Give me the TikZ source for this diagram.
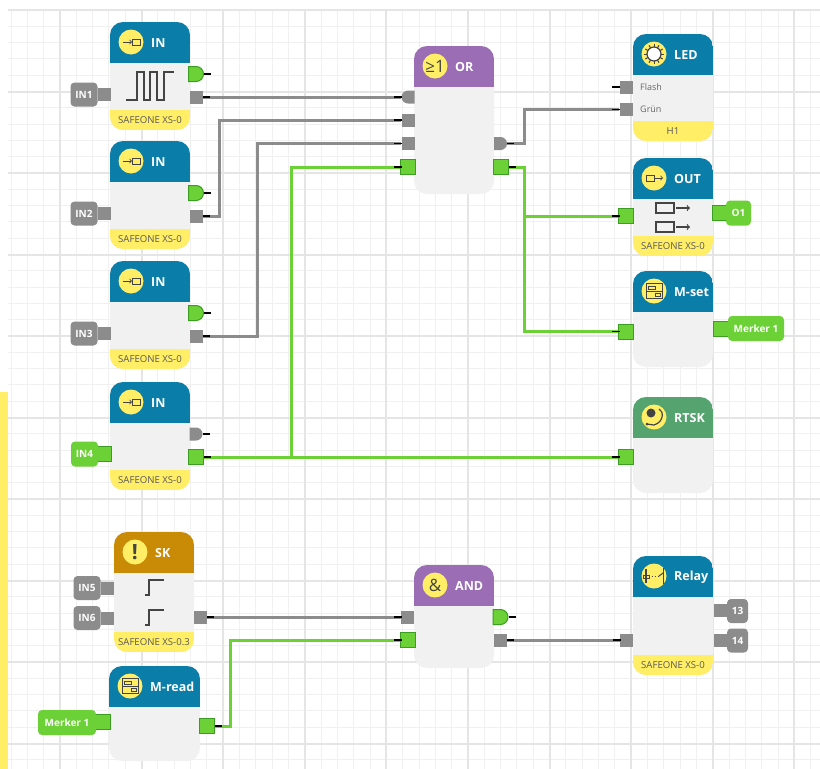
\documentclass[tikz,border=0pt]{standalone}
\usepackage{fontspec}
\setmainfont{Open Sans}
\usepackage{xcolor}
\usepackage{tikz}
\usetikzlibrary{shapes.misc}
\definecolor{cteal}{HTML}{0A7DA8}
\definecolor{cpurple}{HTML}{9A6DB5}
\definecolor{camber}{HTML}{C98A05}
\definecolor{cmoss}{HTML}{55A36F}
\definecolor{cyell}{HTML}{FFEE66}
\definecolor{cbody}{HTML}{F1F1F1}
\definecolor{cgray}{HTML}{8C8C8C}
\definecolor{cgreen}{HTML}{6CD137}
\definecolor{cedge}{HTML}{3A9E20}
\definecolor{cink}{HTML}{444444}

% name, x, width, top, bottom, colour, title, footer, icon text
\newcommand{\block}[9]{
	\node[blockbody,minimum width=#3,minimum height={#5-#4},
		path picture={
			\fill[#6,sharp corners] (path picture bounding box.north west) rectangle ++(#3,41);
			\if\relax\detokenize{#8}\relax\else
			\fill[cyell,sharp corners] (path picture bounding box.south west) rectangle ++(#3,-20);
			\fi
		}] (#1) at ({#2+#3/2},{(#4+#5)/2}) {};
	\node[iconbadge] (#1icon) at (#2+21,#4+20) {#9};
	\node[blocktitle] (#1title) at (#2+41,#4+21) {#7};
	\if\relax\detokenize{#8}\relax\else
	\node[blockfoot] (#1foot) at ({#2+#3/2},#5-10) {#8};
	\fi
}

\begin{document}
\begin{tikzpicture}[x=1pt,y=-1pt,
	gridminor/.style={draw=black!6,line width=1},
	gridmajor/.style={draw=black!10,line width=2},
	blockbody/.style={fill=cbody,rounded corners=13,inner sep=0},
	iconbadge/.style={circle,fill=cyell,minimum size=25,inner sep=0,text=cink,font=\fontsize{17}{17}\selectfont},
	blocktitle/.style={anchor=west,inner sep=0,text=white,font=\fontsize{12.5}{14}\selectfont\bfseries},
	blockfoot/.style={inner sep=0,text=black!65,font=\fontsize{9.6}{11}\selectfont},
	portgray/.style={fill=cgray,minimum size=13,inner sep=0},
	portgreen/.style={fill=cgreen,draw=cedge,line width=1,minimum size=15,inner sep=0},
	gategray/.style={rounded rectangle,rounded rectangle west arc=none,fill=cgray,minimum width=13,minimum height=13,inner sep=0},
	gategrayin/.style={rounded rectangle,rounded rectangle east arc=none,fill=cgray,minimum width=13,minimum height=13,inner sep=0},
	gategreen/.style={rounded rectangle,rounded rectangle west arc=none,fill=cgreen,draw=cedge,line width=1,minimum width=15,minimum height=15,inner sep=0},
	taggray/.style={fill=cgray,rounded corners=4,minimum height=24,inner sep=0,text=white,font=\fontsize{10}{12}\selectfont\bfseries},
	taggreen/.style={fill=cgreen,rounded corners=4,minimum height=25,inner sep=0,text=white,font=\fontsize{10}{12}\selectfont\bfseries},
	wiregray/.style={draw=cgray,line width=3},
	wiregreen/.style={draw=cgreen,line width=3},
	portstub/.style={draw=black,line width=1.6},
	glyph/.style={draw=cink,line width=1},
	bigglyph/.style={draw=cink,line width=1.8}]

	\useasboundingbox (0,0) rectangle (820,769);
	\fill[white] (0,0) rectangle (820,769);

	% grid
	\foreach \gx in {11,27.32,...,820} \draw[gridminor] (\gx,10) -- (\gx,769);
	\foreach \gy in {26.3,42.6,...,769} \draw[gridminor] (8,\gy) -- (820,\gy);
	\foreach \gx in {60,141.6,...,820} \draw[gridmajor] (\gx,10) -- (\gx,769);
	\foreach \gy in {10,91.5,...,769} \draw[gridmajor] (8,\gy) -- (820,\gy);
	\fill[cyell] (0,392) rectangle (8,769);

	% blocks
	\block{inone}{110}{80}{22}{130}{cteal}{IN}{SAFEONE XS-0}{}
	\block{intwo}{110}{80}{141}{249}{cteal}{IN}{SAFEONE XS-0}{}
	\block{inthree}{110}{80}{261}{369}{cteal}{IN}{SAFEONE XS-0}{}
	\block{infour}{110}{80}{382}{490}{cteal}{IN}{SAFEONE XS-0}{}
	\block{sk}{114}{80}{532}{652}{camber}{SK}{SAFEONE XS-0.3}{\fontsize{21}{21}\selectfont\bfseries !}
	\block{mread}{109}{91}{666}{761}{cteal}{M-read}{}{}
	\block{orgate}{414}{80}{46}{194}{cpurple}{OR}{}{≥1}
	\block{andgate}{414}{80}{565}{668}{cpurple}{AND}{}{\&}
	\block{led}{633}{80}{34}{141}{cteal}{LED}{H1}{}
	\block{out}{633}{80}{158}{256}{cteal}{OUT}{SAFEONE XS-0}{}
	\block{mset}{633}{80}{271}{367}{cteal}{M-set}{}{}
	\block{rtsk}{633}{80}{397}{493}{cmoss}{RTSK}{}{}
	\block{relay}{633}{80}{556}{675}{cteal}{Relay}{SAFEONE XS-0}{}

	% ports on the blocks
	\node[portgray] (inonein) at (104,94.5) {};
	\node[portgray] (intwoin) at (104,213.5) {};
	\node[portgray] (inthreein) at (104,333.5) {};
	\node[portgreen] (infourin) at (104,454) {};
	\node[gategreen] (inonegate) at (196,74) {};
	\node[gategreen] (intwogate) at (196,193) {};
	\node[gategreen] (inthreegate) at (196,313) {};
	\node[gategray] (infourgate) at (196,434) {};
	\node[portgray] (inoneout) at (196,97) {};
	\node[portgray] (intwoout) at (196,216) {};
	\node[portgray] (inthreeout) at (196,336) {};
	\node[portgreen] (infourout) at (196,457) {};
	\node[portgray] (skina) at (107,588) {};
	\node[portgray] (skinb) at (107,618) {};
	\node[portgray] (skout) at (200.5,617) {};
	\node[portgreen] (mreadin) at (103,722) {};
	\node[portgreen] (mreadout) at (207,726) {};
	\node[gategrayin] (orina) at (408,97) {};
	\node[portgray] (orinb) at (408,120) {};
	\node[portgray] (orinc) at (408,143.5) {};
	\node[portgreen] (orind) at (408,167) {};
	\node[gategray] (orgateout) at (500.5,143.5) {};
	\node[portgreen] (orout) at (501,167) {};
	\node[portgray] (andina) at (407.5,617) {};
	\node[portgreen] (andinb) at (408,640) {};
	\node[gategreen] (andgateout) at (500.5,617) {};
	\node[portgray] (andout) at (500.5,640) {};
	\node[portgray] (ledflash) at (626,87) {};
	\node[portgray] (ledgruen) at (626,109.5) {};
	\node[portgreen] (outin) at (626,216) {};
	\node[portgreen] (outout) at (720,213) {};
	\node[portgreen] (msetin) at (626,331.5) {};
	\node[portgreen] (msetout) at (720.5,328.5) {};
	\node[portgreen] (rtskin) at (626,457) {};
	\node[portgray] (relayin) at (626.5,640) {};
	\node[portgray] (relayouta) at (720,610.5) {};
	\node[portgray] (relayoutb) at (720,640) {};

	% tags
	\node[taggray,minimum width=27] (tagone) at (84,94.5) {IN1};
	\node[taggray,minimum width=27] (tagtwo) at (84,213.5) {IN2};
	\node[taggray,minimum width=27] (tagthree) at (84,333.5) {IN3};
	\node[taggreen,minimum width=27] (tagfour) at (84.5,454) {IN4};
	\node[taggray,minimum width=27] (tagfive) at (87,588) {IN5};
	\node[taggray,minimum width=27] (tagsix) at (87,618) {IN6};
	\node[taggreen,minimum width=58] (tagread) at (67,722.5) {Merker 1};
	\node[taggreen,minimum width=25] (tagout) at (738.5,213) {O1};
	\node[taggreen,minimum width=56] (tagset) at (756,328.5) {Merker 1};
	\node[taggray,minimum width=21] (tagrelaya) at (737.5,611) {13};
	\node[taggray,minimum width=21] (tagrelayb) at (737.5,640.5) {14};

	% wires
	\coordinate (bendtwo) at (219,120);
	\coordinate (bendthree) at (257,143.5);
	\coordinate (bendled) at (524,109.5);
	\coordinate (bendread) at (230,640);
	\coordinate (jointor) at (291,457);
	\coordinate (bendfour) at (291,167);
	\coordinate (jointout) at (524,216);
	\coordinate (bendset) at (524,331.5);
	\draw[wiregray] (inoneout) -- (orina);
	\draw[wiregray] (intwoout) -| (bendtwo) -- (orinb);
	\draw[wiregray] (inthreeout) -| (bendthree) -- (orinc);
	\draw[wiregray] (orgateout) -| (bendled) -- (ledgruen);
	\draw[wiregray] (skout) -- (andina);
	\draw[wiregray] (andout) -- (relayin);
	\draw[wiregreen] (infourout) -- (rtskin);
	\draw[wiregreen] (jointor) -- (bendfour) -- (orind);
	\draw[wiregreen] (orout) -| (jointout) -- (outin);
	\draw[wiregreen] (jointout) -- (bendset) -- (msetin);
	\draw[wiregreen] (mreadout) -| (bendread) -- (andinb);

	% stubs
	\foreach \p in {inonegate,intwogate,inthreegate,infourgate,inoneout,intwoout,inthreeout,infourout,skout,mreadout,orgateout,orout,andgateout,andout}
		\draw[portstub] (\p.east) -- ++(7,0);
	\foreach \p in {orina,orinb,orinc,orind,andina,andinb,ledflash,ledgruen,outin,msetin,rtskin,relayin}
		\draw[portstub] (\p.center) ++(-6,0) -- ++(-8,0);

	% texts on the LED block
	\node[anchor=west,inner sep=0,text=black!60,font=\fontsize{9}{10}\selectfont] (flashtext) at (640,87) {Flash};
	\node[anchor=west,inner sep=0,text=black!60,font=\fontsize{9}{10}\selectfont] (gruentext) at (640,109) {Grün};

	% icons
	\foreach \n in {inoneicon,intwoicon,inthreeicon,infouricon} {
		\begin{scope}[shift={(\n)}]
			\draw[glyph,->,line width=.8] (-8,0) -- (1,0);
			\draw[glyph] (1,-3) rectangle (9,3);
		\end{scope}
	}
	\begin{scope}[shift={(outicon)}]
		\draw[glyph] (-8,-3) rectangle (0,3);
		\draw[glyph,->,line width=.8] (0,0) -- (9,0);
	\end{scope}
	\begin{scope}[shift={(ledicon)}]
		\foreach \a in {0,30,...,330} \draw[glyph] (\a:7) -- (\a:10);
		\fill[white] (0,0) circle (7);
		\draw[draw=cink,line width=1.2] (0,0) circle (7);
	\end{scope}
	\foreach \n in {mseticon,mreadicon} {
		\begin{scope}[shift={(\n)}]
			\draw[glyph] (-8,-7.5) rectangle (8,7.5);
			\draw[glyph] (-8,0) -- (8,0);
			\draw[glyph] (-6,-5) rectangle (1,-2);
			\draw[glyph] (1,2) rectangle (6,5);
		\end{scope}
	}
	\begin{scope}[shift={(rtskicon)}]
		\fill[cink] (-3,-4) circle (4.5);
		\draw[draw=cink,line width=1.2] (5,-8) .. controls (10,-6) and (10,5) .. (0,8) -- (-7,7);
		\fill[cink] (-7,7) circle (1.5);
	\end{scope}
	\begin{scope}[shift={(relayicon)}]
		\draw[glyph,line width=1.2] (-8,-7) -- (-8,7);
		\draw[glyph] (-11,-1) rectangle (-5,2);
		\draw[glyph,dotted] (-5,0) -- (5,0);
		\draw[glyph] (5,0) -- (9,-3);
		\draw[glyph] (9,-8) -- (9,8);
	\end{scope}

	% pictures inside the blocks
	\draw[bigglyph] (126,100) -- (137,100) -- (137,72) -- (144,72) -- (144,100) -- (150,100) -- (150,72) -- (157,72) -- (157,100) -- (164,100) -- (164,72) -- (174,72);
	\draw[glyph,line width=1.4] (656,203) rectangle (674,213);
	\draw[glyph,->,line width=1.2] (676,208) -- (690,208);
	\draw[glyph,line width=1.4] (656,222) rectangle (674,232);
	\draw[glyph,->,line width=1.2] (676,227) -- (690,227);
	\draw[glyph,line width=1.4] (145,595) -- (149,595) -- (149,580) -- (164,580);
	\draw[glyph,line width=1.4] (145,625) -- (149,625) -- (149,610) -- (164,610);
\end{tikzpicture}
\end{document}
